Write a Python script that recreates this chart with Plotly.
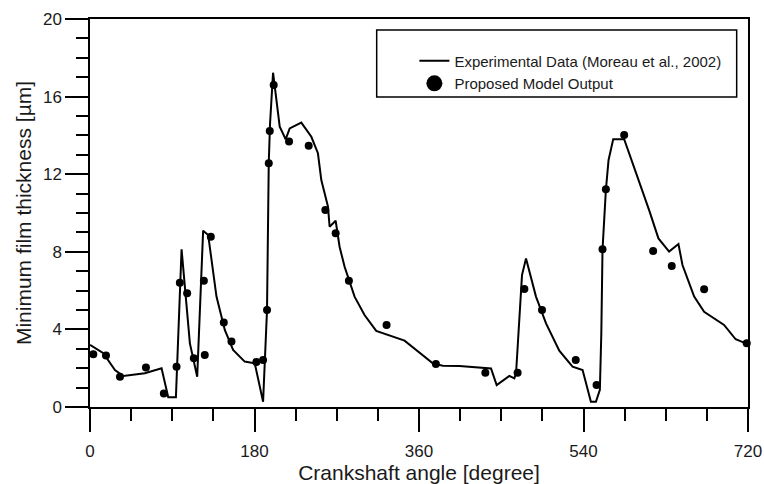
import plotly.graph_objects as go

# Experimental data (line)
exp_angle = [0, 14.6, 27.3, 36.4, 60, 78.3, 85.6, 94, 100.2, 109.3, 117.3, 123.8, 129.3,
             138.4, 147.5, 156.6, 169.3, 180.3, 189.4, 191.5, 193.7, 195.6, 197.0, 200.3,
             207.6, 214.1, 218.5, 231.2, 242.2, 249.4, 253.1, 260.4, 262.2, 268.8, 273.1,
             278.6, 289.5, 300.4, 313.2, 344.2, 375.1, 386, 404.2, 438.8, 445, 458.9,
             464.3, 466.2, 472.7, 477.1, 488, 499, 513.5, 528, 539, 548.1, 553.6, 557.9,
             559.5, 560.8, 564.5, 567.4, 572.5, 584.5, 599.1, 611.8, 622, 633.7, 643.9,
             648.3, 661.1, 672, 693.8, 706.5, 717.5, 720]
exp_h = [3.2, 2.77, 1.9, 1.6, 1.74, 2.0, 0.5, 0.5, 8.13, 3.28, 1.56, 9.09, 8.87,
         5.69, 3.97, 2.94, 2.34, 2.25, 0.27, 2.4, 5.0, 12.6, 14.6, 17.23,
         14.45, 13.8, 14.36, 14.66, 13.93, 13.08, 11.7, 10.33, 9.29, 9.6, 8.26,
         7.23, 5.69, 4.74, 3.92, 3.42, 2.25, 2.13, 2.11, 1.99, 1.13, 1.6,
         1.48, 1.74, 6.8, 7.66, 5.69, 4.31, 2.9, 2.08, 1.91, 0.27, 0.27, 0.88,
         3.8, 8.1, 11.2, 12.73, 13.8, 13.8, 11.87, 10.15, 8.69, 8.01, 8.4,
         7.32, 5.69, 4.91, 4.23, 3.49, 3.28, 3.28]

# Model output (dots)
model_angle = [3.6, 17.5, 32.8, 61.2, 80.8, 94.7, 98.3, 106.3, 113.6, 124.6, 125.6, 132.2,
               146.4, 154.8, 182.1, 189.4, 193.7, 195.6, 196.7, 201.0, 217.8, 239.3,
               257.5, 268.8, 283.3, 324.5, 378.5, 432.6, 467.9, 475.3, 494.6, 531.5,
               554.3, 560.8, 564.5, 584.5, 616.2, 636.6, 672.0, 718.6]
model_h = [2.72, 2.65, 1.56, 2.03, 0.7, 2.08, 6.41, 5.86, 2.51, 6.51, 2.68, 8.78,
           4.35, 3.37, 2.32, 2.42, 5.0, 12.56, 14.23, 16.6, 13.68, 13.47,
           10.15, 8.95, 6.51, 4.23, 2.22, 1.77, 1.77, 6.08, 5.0, 2.42,
           1.13, 8.13, 11.22, 14.02, 8.04, 7.27, 6.07, 3.28]

x_ticks = [0, 180, 360, 540, 720]
y_ticks = [0, 4, 8, 12, 16, 20]

FONT = "Arial, 'Liberation Sans', sans-serif"
TXT = "#1a1a1a"

fig = go.Figure()
fig.add_trace(go.Scatter(
    x=exp_angle, y=exp_h, mode="lines",
    line=dict(color="black", width=2),
    name="Experimental Data (Moreau et al., 2002)",
))
fig.add_trace(go.Scatter(
    x=model_angle, y=model_h, mode="markers",
    marker=dict(color="black", size=8),
    showlegend=False, cliponaxis=False,
))
fig.add_trace(go.Scatter(
    x=[None], y=[None], mode="markers",
    marker=dict(color="black", size=16),
    name="Proposed Model Output",
))

axis_common = dict(
    showline=True, linecolor="black", linewidth=1.5, mirror=True,
    ticks="outside", ticklen=23, tickwidth=1.5, tickcolor="black",
    showgrid=False, zeroline=False, automargin=False,
    tickfont=dict(family=FONT, size=17, color=TXT),
)

fig.update_layout(
    template="none",
    width=764, height=484,
    margin=dict(l=90, r=16, t=19, b=77),
    paper_bgcolor="white", plot_bgcolor="white",
    font=dict(family=FONT, color=TXT),
    xaxis=dict(
        range=[0, 720], tickvals=x_ticks, ticklabelstandoff=5,
        minor=dict(dtick=45, tick0=0, ticks="outside", ticklen=12, tickwidth=1.5, tickcolor="black"),
        title=dict(text="Crankshaft angle [degree]", font=dict(family=FONT, size=21, color=TXT), standoff=0),
        **axis_common,
    ),
    yaxis=dict(
        range=[0, 20], tickvals=y_ticks,
        minor=dict(dtick=1, tick0=0, ticks="outside", ticklen=12, tickwidth=1.5, tickcolor="black"),
        title=dict(text="Minimum film thickness [µm]", font=dict(family=FONT, size=21, color=TXT), standoff=6),
        **axis_common,
    ),
    legend=dict(
        x=0.493, y=0.934, xanchor="left", yanchor="top",
        bgcolor="rgba(0,0,0,0)", borderwidth=0,
        font=dict(family=FONT, size=15, color=TXT),
        tracegroupgap=0, itemsizing="trace",
    ),
    shapes=[dict(
        type="rect", xref="paper", yref="paper",
        x0=0.4357, x1=0.9828, y0=0.799, y1=0.9716,
        line=dict(color="black", width=1.5), fillcolor="rgba(0,0,0,0)",
    )],
)

fig.write_html("out.html")
